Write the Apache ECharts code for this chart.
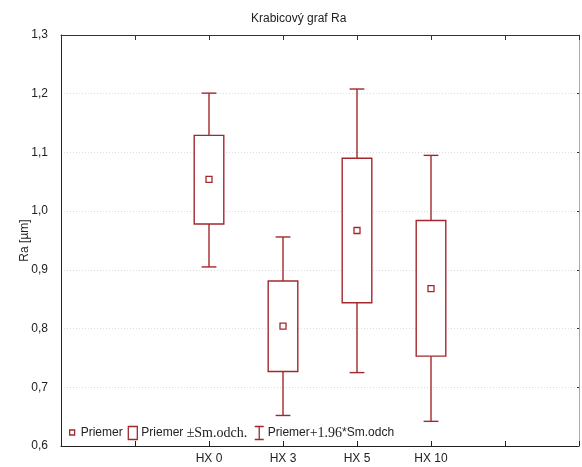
<!DOCTYPE html>
<html>
<head>
<meta charset="utf-8">
<script src="https://cdn.jsdelivr.net/npm/echarts@6/dist/echarts.min.js"></script>
<style>html,body{margin:0;padding:0;background:#fff}#c{width:582px;height:467px}</style>
</head>
<body>
<div id="c"></div>
<script>
// axis slots (blank slots are padding positions on the category axis)
var categories = [' ', '  ', 'HX 0', 'HX 3', 'HX 5', 'HX 10', '   ', '    '];
var groups = ['HX 0', 'HX 3', 'HX 5', 'HX 10'];
var mean   = [1.054, 0.804, 0.967, 0.868];
var sdLow  = [0.978, 0.727, 0.844, 0.753];
var sdHigh = [1.129, 0.881, 1.090, 0.984];
var ciLow  = [0.905, 0.652, 0.725, 0.642];
var ciHigh = [1.201, 0.956, 1.208, 1.095];
var yTicks = [0.6, 0.7, 0.8, 0.9, 1.0, 1.1, 1.2, 1.3];

var RED = '#a3282c';
var meanData = groups.map(function (g, i) { return [g, mean[i]]; });
var boxData = groups.map(function (g, i) { return [g, sdLow[i], sdHigh[i]]; });
var whiskData = groups.map(function (g, i) { return [g, ciLow[i], sdLow[i], sdHigh[i], ciHigh[i]]; });

var chart = echarts.init(document.getElementById('c'), null, {renderer: 'canvas'});
var SANS = 'Liberation Sans, Arial, sans-serif';
var SERIF = 'Liberation Serif, Times New Roman, serif';

chart.setOption({
  animation: false,
  backgroundColor: '#fff',
  title: {
    text: 'Krabicový graf Ra', left: 251, top: 13, padding: 0,
    textStyle: {fontFamily: SANS, fontSize: 12, fontWeight: 'normal', color: '#222'}
  },
  grid: {left: 61, right: 1, top: 35, bottom: 21, show: true, borderColor: '#999', borderWidth: 0, backgroundColor: 'transparent'},
  legend: {
    left: 67, top: 424, padding: 0, itemGap: 5, itemWidth: 9, itemHeight: 13,
    selectedMode: false,
    textStyle: {
      fontFamily: SANS, fontSize: 12, color: '#222', padding: [0, 0, 0, -1],
      rich: {s: {fontFamily: SERIF, fontSize: 14, color: '#222'}}
    },
    formatter: function (n) {
      if (n === 'Priemer ±Sm.odch.') return 'Priemer {s|±Sm.odch.}';
      if (n === 'Priemer+1.96*Sm.odch') return 'Priemer{s|+1.96}*Sm.odch';
      return n;
    },
    data: [
      {name: 'Priemer', icon: 'path://M0,0M9,13M2,3.5H7V8.5H2Z',
       itemStyle: {color: '#fff', borderColor: RED, borderWidth: 1.3}},
      {name: 'Priemer ±Sm.odch.', icon: 'path://M0,0H9V13H0Z',
       itemStyle: {color: '#fff', borderColor: RED, borderWidth: 1.3}},
      {name: 'Priemer+1.96*Sm.odch', icon: 'path://M0,0H9M4.5,0V13M0,13H9',
       itemStyle: {color: 'none', borderColor: RED, borderWidth: 1.3}}
    ]
  },
  xAxis: [{
    type: 'category', data: categories, boundaryGap: false, position: 'bottom',
    axisLine: {show: true, lineStyle: {color: '#222', width: 1}},
    axisTick: {show: true, inside: true, length: 5, lineStyle: {color: '#222'}},
    axisLabel: {show: true, fontFamily: SANS, fontSize: 12, color: '#222', margin: 7, interval: 0,
      formatter: function (v) { return v.trim(); }},
    splitLine: {show: false}
  }, {
    type: 'category', data: categories, boundaryGap: false, position: 'top',
    axisLine: {show: true, lineStyle: {color: '#333', width: 1}},
    axisTick: {show: true, inside: true, length: 5, lineStyle: {color: '#333'}},
    axisLabel: {show: false}, splitLine: {show: false}
  }],
  yAxis: [{
    type: 'value', min: 0.6, max: 1.3, interval: 0.1, position: 'left',
    name: 'Ra [µm]', nameLocation: 'middle', nameGap: 30, nameMoveOverlap: false,
    nameTextStyle: {fontFamily: SANS, fontSize: 12, color: '#222'},
    axisLine: {show: true, lineStyle: {color: '#222', width: 1}},
    axisTick: {show: false},
    axisLabel: {fontFamily: SANS, fontSize: 12, color: '#222', margin: 13,
      formatter: function (v) { return v.toFixed(1).replace('.', ','); }},
    splitLine: {show: true, lineStyle: {color: '#dcdcdc', type: [1, 2], width: 1}}
  }, {
    type: 'value', min: 0.6, max: 1.3, interval: 0.1, position: 'right',
    axisLine: {show: true, lineStyle: {color: '#aaa', width: 1}},
    axisTick: {show: true, inside: true, length: 2, lineStyle: {color: '#333'}},
    axisLabel: {show: false}, splitLine: {show: false}
  }],
  series: [{
    name: 'Priemer+1.96*Sm.odch', type: 'custom', xAxisIndex: 0, yAxisIndex: 0,
    data: whiskData, encode: {x: 0, y: [1, 2, 3, 4]}, z: 2,
    renderItem: function (params, api) {
      var x = api.value(0);
      var pLo = api.coord([x, api.value(1)]);
      var pBl = api.coord([x, api.value(2)]);
      var pBh = api.coord([x, api.value(3)]);
      var pHi = api.coord([x, api.value(4)]);
      var cw = api.size([1, 0])[0] * 0.2 / 2;
      var st = {stroke: RED, lineWidth: 1.4, fill: null};
      return {type: 'group', children: [
        {type: 'line', shape: {x1: pLo[0], y1: pLo[1], x2: pBl[0], y2: pBl[1]}, style: st},
        {type: 'line', shape: {x1: pBh[0], y1: pBh[1], x2: pHi[0], y2: pHi[1]}, style: st},
        {type: 'line', shape: {x1: pLo[0] - cw, y1: pLo[1], x2: pLo[0] + cw, y2: pLo[1]}, style: st},
        {type: 'line', shape: {x1: pHi[0] - cw, y1: pHi[1], x2: pHi[0] + cw, y2: pHi[1]}, style: st}
      ]};
    }
  }, {
    name: 'Priemer ±Sm.odch.', type: 'custom', xAxisIndex: 0, yAxisIndex: 0,
    data: boxData, encode: {x: 0, y: [1, 2]}, z: 3,
    renderItem: function (params, api) {
      var x = api.value(0);
      var pL = api.coord([x, api.value(1)]);
      var pH = api.coord([x, api.value(2)]);
      var w = api.size([1, 0])[0] * 0.4;
      return {type: 'rect', shape: {x: pL[0] - w / 2, y: pH[1], width: w, height: pL[1] - pH[1]},
        style: {fill: '#fff', stroke: RED, lineWidth: 1.4}};
    }
  }, {
    name: 'Priemer', type: 'scatter', xAxisIndex: 0, yAxisIndex: 0,
    data: meanData, symbol: 'rect', symbolSize: 6, z: 4,
    itemStyle: {color: '#fff', borderColor: RED, borderWidth: 1.3, opacity: 1}
  }]
});
</script>
</body>
</html>
